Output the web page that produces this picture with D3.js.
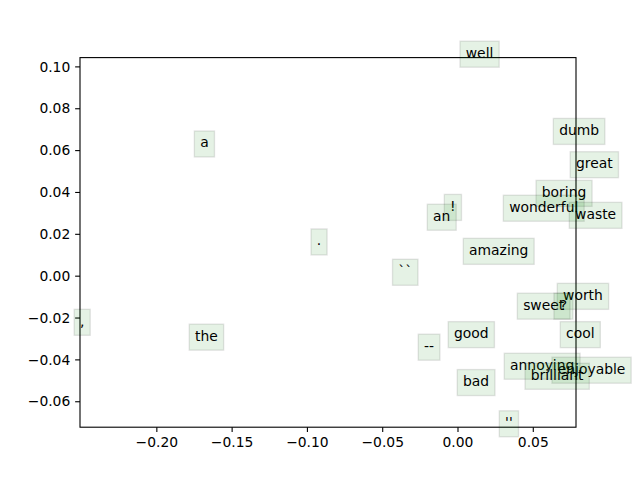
<!DOCTYPE html>
<html>
<head>
<meta charset="utf-8">
<script src="https://cdn.jsdelivr.net/npm/d3@7"></script>
<style>
  html, body { margin: 0; padding: 0; background: #fff; }
  svg { display: block; }
  text { font-family: "DejaVu Sans", sans-serif; }
</style>
</head>
<body>
<script>
// Data
const words = ["well", "a", "dumb", "great", "boring", "!", "wonderful", "waste", "an", ".", "amazing", "``",
               "worth", "sweet", "?", ",", "the", "cool", "good", "--", "annoying", "enjoyable", "brilliant", "bad", "''"];
const xs = [0.0055, -0.1709, 0.0675, 0.0787, 0.0560, -0.0049, 0.0343, 0.0781, -0.0162, -0.0934, 0.0077, -0.0393,
            0.0701, 0.0436, 0.0679, -0.2507, -0.1743, 0.0721, -0.0023, -0.0222, 0.0349, 0.0666, 0.0487, 0.0037, 0.0316];
const ys = [0.1042, 0.0613, 0.0673, 0.0514, 0.0377, 0.0310, 0.0306, 0.0272, 0.0263, 0.0145, 0.0100, 0.0000,
            -0.0115, -0.0162, -0.0162, -0.0239, -0.0310, -0.0298, -0.0298, -0.0358, -0.0449, -0.0468, -0.0497, -0.0527, -0.0724];
const xTicks = [-0.20, -0.15, -0.10, -0.05, 0.00, 0.05];
const yTicks = [-0.06, -0.04, -0.02, 0.00, 0.02, 0.04, 0.06, 0.08, 0.10];

(function () {
const W = 640, H = 480;
const mLeft = 80, mRight = 576, mTop = 57.6, mBottom = 427.2;
const fs = 13.89;

const svg = d3.select("body").append("svg").attr("width", W).attr("height", H);

const x = d3.scaleLinear().domain(d3.extent(xs)).range([mLeft, mRight]);
const y = d3.scaleLinear().domain(d3.extent(ys)).range([mBottom, mTop]);

const fmt = v => d3.format(".2f")(v).replace("-", "\u2212");

// Axes
const xAxis = d3.axisBottom(x).tickValues(xTicks).tickFormat(fmt).tickSizeInner(4.86).tickSizeOuter(0).tickPadding(4.86);
const yAxis = d3.axisLeft(y).tickValues(yTicks).tickFormat(fmt).tickSizeInner(4.86).tickSizeOuter(0).tickPadding(4.86);

const gx = svg.append("g").attr("transform", `translate(0,${mBottom})`).call(xAxis);
const gy = svg.append("g").attr("transform", `translate(${mLeft},0)`).call(yAxis);
[gx, gy].forEach(g => {
  g.select(".domain").remove();
  g.selectAll(".tick line").attr("stroke", "#000").attr("stroke-width", 1.1);
  g.selectAll(".tick text").attr("font-family", "DejaVu Sans").attr("font-size", fs).attr("fill", "#000");
});
gx.selectAll(".tick text").attr("dy", "0.72em");
gy.selectAll(".tick text").attr("dy", "0.34em");

// Frame (spines)
svg.append("rect")
  .attr("x", mLeft).attr("y", mTop)
  .attr("width", mRight - mLeft).attr("height", mBottom - mTop)
  .attr("fill", "none").attr("stroke", "#000").attr("stroke-width", 1.1);

// Annotations with boxes
const pad = 5.8, asc = 10.6, desc = 3.8;
const ann = svg.append("g");
words.forEach((w, i) => {
  const g = ann.append("g");
  const rect = g.append("rect");
  const t = g.append("text")
    .attr("x", x(xs[i])).attr("y", y(ys[i]))
    .attr("font-size", fs).attr("fill", "#000")
    .text(w);
  const tw = t.node().getComputedTextLength();
  rect.attr("x", x(xs[i]) - pad)
      .attr("y", y(ys[i]) - asc - pad)
      .attr("width", tw + 2 * pad)
      .attr("height", asc + desc + 2 * pad)
      .attr("fill", "green").attr("fill-opacity", 0.1)
      .attr("stroke", "#000").attr("stroke-opacity", 0.1).attr("stroke-width", 1.39);
});
})();
</script>
</body>
</html>
